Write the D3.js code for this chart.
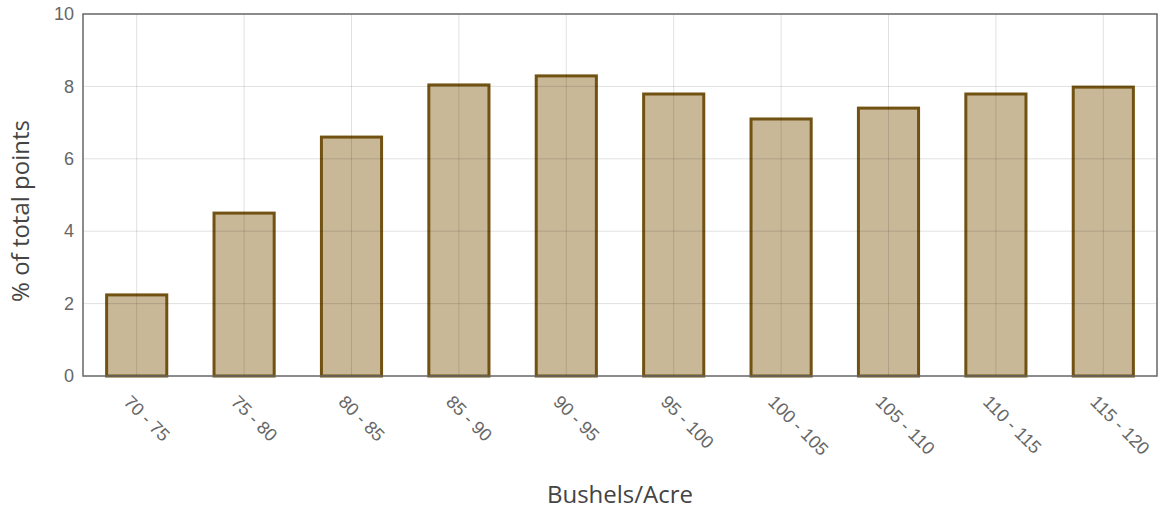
<!DOCTYPE html>
<html>
<head>
<meta charset="utf-8">
<script src="https://cdn.jsdelivr.net/npm/d3@7"></script>
<style>
  body { margin: 0; background: #fff; font-family: "Open Sans", sans-serif; }
  .tick text { fill: #666; font-size: 18px; }
</style>
</head>
<body>
<div id="container"></div>
<script>
var categories = ['70 - 75', '75 - 80', '80 - 85', '85 - 90', '90 - 95', '95 - 100', '100 - 105', '105 - 110', '110 - 115', '115 - 120'];
var values = [2.24, 4.5, 6.6, 8.04, 8.29, 7.79, 7.1, 7.4, 7.79, 7.98];
var yTicks = [0, 2, 4, 6, 8, 10];

var W = 1159, H = 513;
var m = { left: 83, right: 2, top: 14, bottom: 137 };
var iw = W - m.left - m.right, ih = H - m.top - m.bottom;

var svg = d3.select('#container').append('svg')
    .attr('width', W).attr('height', H)
    .style('display', 'block');

var g = svg.append('g').attr('transform', 'translate(' + m.left + ',' + m.top + ')');

var x = d3.scaleBand().domain(categories).range([0, iw]).paddingInner(0.44).paddingOuter(0.22);
var y = d3.scaleLinear().domain([0, 10]).range([ih, 0]);

// bars first, grid on top shows through the see-through fill
g.selectAll('rect.bar').data(values).enter().append('rect')
    .attr('class', 'bar')
    .attr('x', (d, i) => x(categories[i]))
    .attr('width', x.bandwidth())
    .attr('y', d => y(d))
    .attr('height', d => ih - y(d))
    .attr('fill', '#c8b898')
    .attr('stroke', '#715212')
    .attr('stroke-width', 3);

// grid
g.selectAll('line.hg').data(yTicks.slice(1, -1)).enter().append('line')
    .attr('x1', 0).attr('x2', iw)
    .attr('y1', d => y(d)).attr('y2', d => y(d))
    .attr('stroke', 'rgba(0,0,0,0.12)');
g.selectAll('line.vg').data(categories).enter().append('line')
    .attr('y1', 0).attr('y2', ih)
    .attr('x1', d => x(d) + x.bandwidth() / 2).attr('x2', d => x(d) + x.bandwidth() / 2)
    .attr('stroke', 'rgba(0,0,0,0.12)');

// frame
g.append('rect').attr('width', iw).attr('height', ih)
    .attr('fill', 'none').attr('stroke', '#666').attr('stroke-width', 1.5);

var yAxis = g.append('g').call(d3.axisLeft(y).tickValues(yTicks).tickSize(0).tickPadding(9));
yAxis.select('.domain').remove();

var xAxis = g.append('g').attr('transform', 'translate(0,' + ih + ')')
    .call(d3.axisBottom(x).tickSize(0).tickPadding(0));
xAxis.select('.domain').remove();
xAxis.selectAll('text')
    .attr('text-anchor', 'start')
    .attr('dy', 0)
    .attr('transform', 'translate(-14,27) rotate(45)');

svg.append('text')
    .attr('transform', 'translate(29,211) rotate(-90)')
    .attr('text-anchor', 'middle')
    .attr('fill', '#444').style('font-size', '24px')
    .text('% of total points');

svg.append('text')
    .attr('x', m.left + iw / 2).attr('y', 503)
    .attr('text-anchor', 'middle')
    .attr('fill', '#444').style('font-size', '24px')
    .text('Bushels/Acre');
</script>
</body>
</html>
